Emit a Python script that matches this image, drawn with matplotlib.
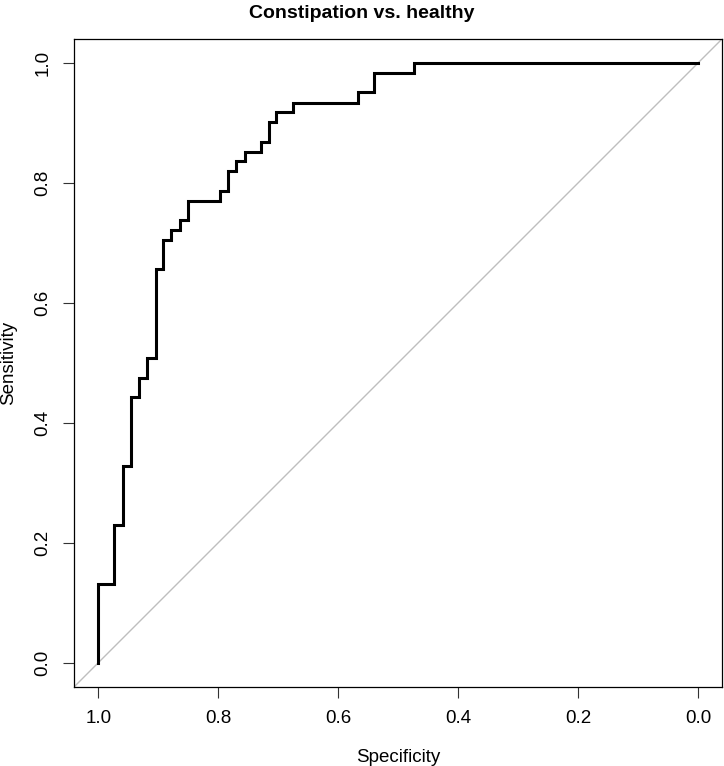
import matplotlib
matplotlib.use('Agg')
import matplotlib.pyplot as plt

plt.rcParams['font.family'] = ['Liberation Sans', 'DejaVu Sans']

# ROC curve corner points
specificity = [1.0, 1.0, 0.973, 0.959, 0.946, 0.932, 0.918, 0.904, 0.892, 0.878,
               0.864, 0.851, 0.797, 0.783, 0.770, 0.756, 0.729, 0.716, 0.703,
               0.676, 0.567, 0.541, 0.473, 0.0]
sensitivity = [0.0, 0.131, 0.230, 0.328, 0.443, 0.475, 0.508, 0.656, 0.705, 0.721,
               0.738, 0.770, 0.787, 0.820, 0.836, 0.852, 0.869, 0.902, 0.918,
               0.934, 0.951, 0.984, 1.0, 1.0]
ticks = [0.0, 0.2, 0.4, 0.6, 0.8, 1.0]
tick_labels = ['0.0', '0.2', '0.4', '0.6', '0.8', '1.0']

W, H = 724, 766
fig = plt.figure(figsize=(W / 100, H / 100), dpi=100)
ax = fig.add_axes([74.3 / W, (H - 686.7) / H, (722 - 74.3) / W, (686.7 - 39) / H])

# chance diagonal across the whole plot region
ax.plot([1.04, -0.04], [-0.04, 1.04], color='#bebebe', lw=1.0, zorder=1)
ax.plot(specificity, sensitivity, drawstyle='steps-post', color='black',
        lw=2.2, zorder=2, solid_joinstyle='miter')

ax.set_xlim(1.04, -0.04)
ax.set_ylim(-0.04, 1.04)
ax.set_xticks(ticks)
ax.set_xticklabels(tick_labels)
ax.set_yticks(ticks)
ax.set_yticklabels(tick_labels, rotation=90, va='center')
ax.tick_params(direction='out', length=8, width=0.8, labelsize=13.5, pad=8.5,
               color='#333333')

for s in ax.spines.values():
    s.set_linewidth(0.9)

ax.set_xlabel('Specificity', fontsize=13.5)
ax.xaxis.label.set_va('baseline')
ax.xaxis.set_label_coords(0.5, (686.7 - 761.7) / 647.7)
ax.set_ylabel('Sensitivity', fontsize=13.5)
ax.yaxis.label.set_va('center')
ax.yaxis.set_label_coords((9 - 74.3) / 647.7, 0.5)

fig.text(362 / W, 1 - 18 / H, 'Constipation vs. healthy', ha='center',
         va='baseline', fontsize=14, fontweight='bold')

fig.savefig('out.png', dpi=100)
